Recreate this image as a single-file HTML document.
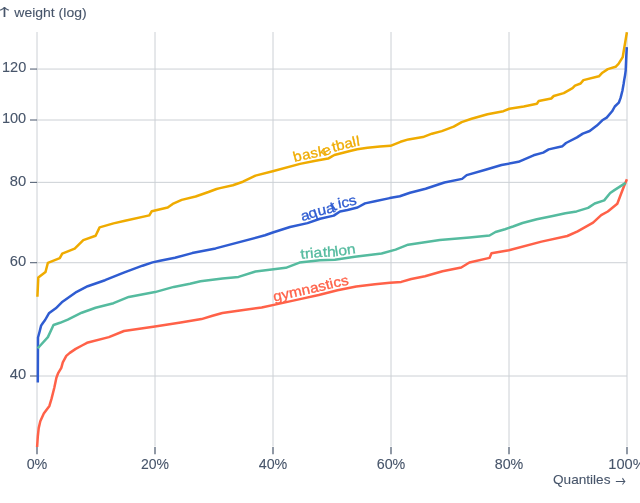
<!DOCTYPE html>
<html><head><meta charset="utf-8"><style>
html,body{margin:0;padding:0;background:#fff;}
svg{display:block;font-family:"Liberation Sans",Arial,sans-serif;font-size:14px;fill:#47556a;}
text{stroke:#47556a;stroke-width:0.1px;}
.ar{font-family:"Noto Sans CJK JP",sans-serif;}
.lab{font-size:14px;stroke-width:0.3px;}
</style></head><body>
<svg width="640" height="503" viewBox="0 0 640 503" style="will-change:transform">
<line x1="37" x2="37" y1="32" y2="446.5" stroke="#ccd0d5"/>
<line x1="155" x2="155" y1="32" y2="446.5" stroke="#ccd0d5"/>
<line x1="273" x2="273" y1="32" y2="446.5" stroke="#ccd0d5"/>
<line x1="391" x2="391" y1="32" y2="446.5" stroke="#ccd0d5"/>
<line x1="509" x2="509" y1="32" y2="446.5" stroke="#ccd0d5"/>
<line x1="627" x2="627" y1="32" y2="446.5" stroke="#ccd0d5"/>
<line x1="37" x2="627" y1="69.06" y2="69.06" stroke="#ccd0d5"/>
<line x1="37" x2="627" y1="120.0" y2="120.0" stroke="#ccd0d5"/>
<line x1="37" x2="627" y1="182.35" y2="182.35" stroke="#ccd0d5"/>
<line x1="37" x2="627" y1="262.72" y2="262.72" stroke="#ccd0d5"/>
<line x1="37" x2="627" y1="376.01" y2="376.01" stroke="#ccd0d5"/>
<line x1="37" x2="37" y1="447" y2="454.3" stroke="#47556a" stroke-width="1.2"/>
<line x1="155" x2="155" y1="447" y2="454.3" stroke="#47556a" stroke-width="1.2"/>
<line x1="273" x2="273" y1="447" y2="454.3" stroke="#47556a" stroke-width="1.2"/>
<line x1="391" x2="391" y1="447" y2="454.3" stroke="#47556a" stroke-width="1.2"/>
<line x1="509" x2="509" y1="447" y2="454.3" stroke="#47556a" stroke-width="1.2"/>
<line x1="627" x2="627" y1="447" y2="454.3" stroke="#47556a" stroke-width="1.2"/>
<line x1="30" x2="37" y1="69.06" y2="69.06" stroke="#47556a"/>
<line x1="30" x2="37" y1="120.0" y2="120.0" stroke="#47556a"/>
<line x1="30" x2="37" y1="182.35" y2="182.35" stroke="#47556a"/>
<line x1="30" x2="37" y1="262.72" y2="262.72" stroke="#47556a"/>
<line x1="30" x2="37" y1="376.01" y2="376.01" stroke="#47556a"/>
<text x="37" y="468.7" text-anchor="middle" textLength="20.7" lengthAdjust="spacingAndGlyphs">0%</text>
<text x="155" y="468.7" text-anchor="middle" textLength="28.0" lengthAdjust="spacingAndGlyphs">20%</text>
<text x="273" y="468.7" text-anchor="middle" textLength="28.6" lengthAdjust="spacingAndGlyphs">40%</text>
<text x="391" y="468.7" text-anchor="middle" textLength="28.6" lengthAdjust="spacingAndGlyphs">60%</text>
<text x="509" y="468.7" text-anchor="middle" textLength="28.6" lengthAdjust="spacingAndGlyphs">80%</text>
<text x="627" y="468.7" text-anchor="middle" textLength="37.4" lengthAdjust="spacingAndGlyphs">100%</text>
<text x="26.2" y="72.4" text-anchor="end" textLength="24.2" lengthAdjust="spacingAndGlyphs">120</text>
<text x="26.2" y="123.3" text-anchor="end" textLength="24.3" lengthAdjust="spacingAndGlyphs">100</text>
<text x="26.2" y="185.7" text-anchor="end" textLength="16.4" lengthAdjust="spacingAndGlyphs">80</text>
<text x="26.2" y="266.0" text-anchor="end" textLength="16.4" lengthAdjust="spacingAndGlyphs">60</text>
<text x="26.2" y="379.3" text-anchor="end" textLength="16.4" lengthAdjust="spacingAndGlyphs">40</text>
<text class="ar" transform="translate(-5.4,15.7) scale(1.87,1)" style="font-size:10.7px">↑</text><text x="14.3" y="16.9" textLength="72.3" lengthAdjust="spacingAndGlyphs" style="font-size:13.3px">weight (log)</text>
<text x="553" y="484.2" textLength="57.5" lengthAdjust="spacingAndGlyphs" style="font-size:13.3px">Quantiles</text><text class="ar" transform="translate(615.4,486.0) scale(0.73,1)" style="font-size:14.2px">→</text>
<path id="p-basketball" d="M37.4,296.8L38.3,277.5L45.5,272L47.9,262.8L59.8,258.2L62.2,253.6L74.7,248.6L83.3,240.1L95.6,235.7L99.6,227.4L113.5,223.4L125,220.8L149.3,215.4L151.8,211.2L167.7,207.5L172.7,203.9L181.7,199.9L195.6,196.5L208.5,192L216.5,189L220,188.1L232.9,185.3L242.9,181.7L255.5,175.6L272.7,171.2L300,163.9L315.6,160.7L328.1,158.6L331.5,156.6L334.4,155L350,151L357.3,149.3L367.5,147.8L380,146.6L390.5,145.8L400.5,141.8L408.4,139.4L422.9,137.1L431.9,133.7L441.8,131.1L453.7,126.7L461.7,122.1L471.6,118.8L487.5,114.2L503.4,111.2L509.4,108.75L523.75,106.5L536.9,103.75L538.75,101L551.25,98.5L553.75,96L563.75,93.1L572.5,88.1L575,85.6L580.6,83.5L583.4,80.1L598.9,76.3L602.4,72.7L607.8,69.1L615.6,66.8L618.5,63.8L622.7,57.2L623.9,50L625.1,42.9L626.9,32.3" fill="none" stroke="#efab00" stroke-width="2.5" stroke-linejoin="round" stroke-linecap="butt"/>
<path id="p-aquatics" d="M37.8,382.5L38,337.5L39.5,332L41.1,325.6L42.7,323.2L45.1,320L48.9,313.3L55.8,308.3L61.8,302.3L76.7,291.8L87.7,286.2L105,280.2L123.75,272.6L142.5,265.7L152.5,262.4L160,260.8L175,257.8L192.2,253.1L215.6,248.4L265,235.3L272.8,232.5L290,227L307.5,223.1L320,218.75L333.75,215.6L340,211.5L347.5,210L357.5,207.5L365,203.4L375,201.3L389.7,198.1L399.8,196.3L410,192.7L425.6,188.75L444.4,182.5L462.1,178.9L466.7,175.1L485.5,169.7L501.5,165L518.5,161.8L533.6,155.3L543.2,152.6L548.7,149.4L562.5,146.2L566,143L577,137.4L582.8,133.6L589.7,131L596.9,125.6L602.3,120.3L606.7,117.6L612.1,111.3L614.8,106.5L618.8,102.7L620.6,97.9L622.4,90.7L623.6,84L624.2,80L625.1,75.1L625.7,70.3L626.3,56L626.8,47.1" fill="none" stroke="#2f5cd1" stroke-width="2.5" stroke-linejoin="round" stroke-linecap="butt"/>
<path id="p-gymnastics" d="M37.1,447L37.8,436.5L38.7,428.1L40.3,421.2L43.8,413.5L49.4,405.9L51.5,398.9L54.3,387.8L56.4,377.8L58.3,372.8L61.3,367.8L62.8,362.4L66.3,355.9L69.8,352.9L75.7,348.9L82,345.5L87,342.8L108.9,337.1L124,331L155,326.5L180.7,322.5L201.5,319.1L212.5,315.8L222.4,313L239.9,310.5L261.7,307.5L279.6,303.6L300,299.1L318.75,295L337.5,290.3L356.25,286.6L375,284.3L390,282.8L401.25,281.9L411.25,279L425,276.25L442.5,271.25L461.25,267.5L469.4,262.5L489.5,257.9L491.5,253.3L508.9,250.2L541.5,241.6L567.3,236L577.6,231.3L593.1,222.7L601.2,215.1L607.8,211.5L617.3,203.8L620.9,194.2L623.9,186.5L626.9,179.3" fill="none" stroke="#ff6148" stroke-width="2.5" stroke-linejoin="round" stroke-linecap="butt"/>
<path id="p-triathlon" d="M37.6,348.4L40.3,345.5L47.9,337.1L53.5,325L60,322.8L67.8,319.6L81.7,312.7L95.6,307.7L113.5,303.2L128.75,296.9L155,292.1L173.75,286.9L190,283.75L200.5,281.3L222.5,278.4L238.5,276.9L255.5,271.5L285.8,267.8L299.5,262.6L320,260.3L334.9,259.7L354.8,256.7L381.6,253.5L395.6,249.6L408.1,244.7L439.8,239.9L469.6,237.5L489.5,235.5L495.5,232L505,229.2L513,226.5L522.5,223L536.8,219.3L552.7,216.1L565.4,213.3L576.6,211.4L588.1,207.9L594.7,203.5L604.2,200.4L610.2,193L614.4,190.1L625.7,182.9" fill="none" stroke="#55bb9f" stroke-width="2.5" stroke-linejoin="round" stroke-linecap="butt"/>
<text class="lab" dy="-3.3" style="fill:#efab00;stroke:#efab00"><textPath href="#p-basketball" startOffset="50.12%" text-anchor="middle" textLength="67.8" lengthAdjust="spacingAndGlyphs">basketball</textPath></text>
<text class="lab" dy="-3.3" style="fill:#2f5cd1;stroke:#2f5cd1"><textPath href="#p-aquatics" startOffset="50%" text-anchor="middle" textLength="58.2" lengthAdjust="spacingAndGlyphs">aquatics</textPath></text>
<text class="lab" dy="-3.3" style="fill:#ff6148;stroke:#ff6148"><textPath href="#p-gymnastics" startOffset="50.1%" text-anchor="middle" textLength="76.8" lengthAdjust="spacingAndGlyphs">gymnastics</textPath></text>
<text class="lab" dy="-3.3" style="fill:#55bb9f;stroke:#55bb9f"><textPath href="#p-triathlon" startOffset="50.17%" text-anchor="middle" textLength="55.6" lengthAdjust="spacingAndGlyphs">triathlon</textPath></text>
</svg>
</body></html>
